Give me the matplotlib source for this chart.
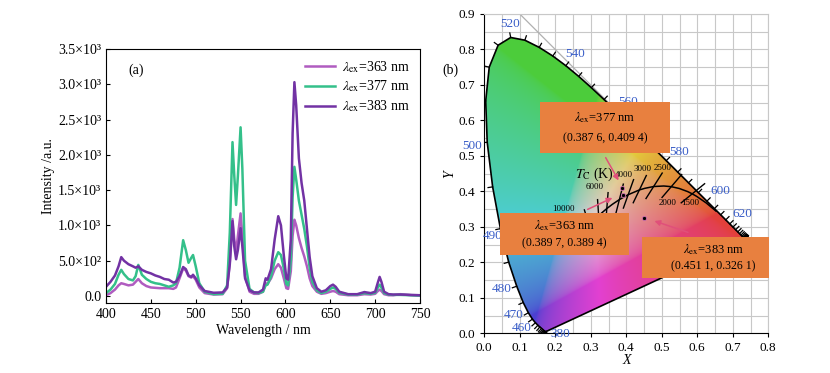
import numpy as np
import matplotlib
matplotlib.use("Agg")
import matplotlib.pyplot as plt
from matplotlib.patches import Polygon, Rectangle

plt.rcParams['font.family'] = ['Liberation Serif', 'DejaVu Serif']
plt.rcParams['mathtext.fontset'] = 'stix'

# ---- (a) emission spectra ----
wl = [400, 405, 410, 414, 417, 420, 425, 430, 433, 436, 440, 445, 450, 455, 460, 465, 470, 475, 478,
      482, 486, 489, 492, 495, 497, 500, 504, 510, 520, 530, 535, 538, 541, 543, 545, 547, 550, 552,
      555, 560, 565, 570, 575, 578, 580, 584, 588, 592, 595, 598, 601, 603, 606, 608, 610, 612, 615,
      618, 621, 624, 627, 630, 635, 640, 645, 650, 653, 656, 660, 670, 680, 688, 695, 700, 703, 705,
      707, 710, 715, 720, 728, 740, 750]
i363 = [10, 40, 90, 150, 180, 170, 150, 160, 200, 240, 180, 140, 120, 115, 110, 110, 110, 100, 120,
        250, 390, 360, 280, 260, 280, 230, 120, 40, 20, 25, 110, 480, 1090, 800, 620, 850, 1170, 850,
        280, 60, 30, 30, 60, 180, 170, 250, 380, 450, 400, 260, 110, 100, 350, 850, 1080, 1000, 820,
        680, 560, 420, 250, 140, 60, 30, 40, 60, 70, 60, 25, 10, 10, 25, 20, 30, 70, 90,
        70, 25, 10, 10, 25, 10, 5]
i377 = [40, 90, 170, 300, 370, 310, 240, 220, 280, 440, 300, 240, 200, 180, 170, 150, 130, 150, 180,
        400, 790, 650, 470, 540, 580, 420, 180, 60, 25, 30, 150, 900, 2180, 1700, 1290, 1700, 2390, 1800,
        500, 100, 50, 40, 60, 150, 160, 280, 500, 620, 580, 400, 170, 150, 500, 1400, 1830, 1650, 1350,
        1150, 950, 700, 400, 200, 80, 40, 60, 100, 120, 100, 45, 20, 20, 40, 30, 45, 120, 160,
        120, 40, 20, 15, 15, 10, 5]
i383 = [130, 200, 290, 420, 550, 500, 450, 420, 400, 420, 370, 340, 320, 290, 270, 240, 230, 190, 200,
        280, 410, 380, 290, 270, 300, 250, 150, 70, 45, 50, 120, 450, 1060, 700, 520, 650, 960, 700,
        250, 80, 50, 50, 90, 250, 230, 380, 800, 1130, 1000, 600, 250, 230, 800, 2300, 3030, 2700, 1950,
        1600, 1350, 950, 550, 280, 110, 60, 80, 140, 160, 130, 60, 25, 25, 55, 40, 60, 190, 270,
        200, 60, 25, 20, 20, 15, 10]
ytick_vals = [0, 500, 1000, 1500, 2000, 2500, 3000, 3500]
ytick_labels = ['0.0', '5.0×10²', '1.0×10³', '1.5×10³', '2.0×10³', '2.5×10³', '3.0×10³', '3.5×10³']

# ---- (b) CIE 1931 ----
locus_wl = list(range(380, 705, 5))
locus_x = [0.1741, 0.1740, 0.1738, 0.1736, 0.1733, 0.1730, 0.1726, 0.1721, 0.1714, 0.1703, 0.1689,
           0.1669, 0.1644, 0.1611, 0.1566, 0.1510, 0.1440, 0.1355, 0.1241, 0.1096, 0.0913, 0.0687,
           0.0454, 0.0235, 0.0082, 0.0039, 0.0139, 0.0389, 0.0743, 0.1142, 0.1547, 0.1929, 0.2296,
           0.2658, 0.3016, 0.3373, 0.3731, 0.4087, 0.4441, 0.4788, 0.5125, 0.5448, 0.5752, 0.6029,
           0.6270, 0.6482, 0.6658, 0.6801, 0.6915, 0.7006, 0.7079, 0.7140, 0.7190, 0.7230, 0.7260,
           0.7283, 0.7300, 0.7311, 0.7320, 0.7327, 0.7334, 0.7340, 0.7344, 0.7346, 0.7347]
locus_y = [0.0050, 0.0050, 0.0049, 0.0049, 0.0048, 0.0048, 0.0048, 0.0048, 0.0051, 0.0058, 0.0069,
           0.0086, 0.0109, 0.0138, 0.0177, 0.0227, 0.0297, 0.0399, 0.0578, 0.0868, 0.1327, 0.2007,
           0.2950, 0.4127, 0.5384, 0.6548, 0.7502, 0.8120, 0.8338, 0.8262, 0.8059, 0.7816, 0.7543,
           0.7243, 0.6923, 0.6589, 0.6245, 0.5896, 0.5547, 0.5202, 0.4866, 0.4544, 0.4242, 0.3965,
           0.3725, 0.3514, 0.3340, 0.3197, 0.3083, 0.2993, 0.2920, 0.2859, 0.2809, 0.2770, 0.2740,
           0.2717, 0.2700, 0.2689, 0.2680, 0.2673, 0.2666, 0.2660, 0.2656, 0.2654, 0.2653]
wl_labels = [380, 460, 470, 480, 490, 500, 520, 540, 560, 580, 600, 620]
wl_label_xy = [(0.213, -0.002), (0.105, 0.015), (0.084, 0.052), (0.049, 0.124), (0.024, 0.274),
               (-0.035, 0.527), (0.072, 0.872), (0.255, 0.788), (0.405, 0.652), (0.548, 0.51),
               (0.665, 0.40), (0.727, 0.337)]

planck_T = [1000, 1200, 1400, 1500, 1600, 1800, 2000, 2200, 2500, 2800, 3000, 3500, 4000, 4500,
            5000, 6000, 7000, 8000, 10000]
planck_x = [0.6528, 0.6251, 0.5985, 0.5857, 0.5732, 0.5492, 0.5267, 0.5056, 0.4770, 0.4520, 0.4369,
            0.4053, 0.3805, 0.3608, 0.3451, 0.3221, 0.3064, 0.2952, 0.2807]
planck_y = [0.3444, 0.3674, 0.3858, 0.3931, 0.3993, 0.4082, 0.4133, 0.4152, 0.4137, 0.4086, 0.4041,
            0.3907, 0.3768, 0.3636, 0.3516, 0.3318, 0.3166, 0.3048, 0.2883]
iso_T = [1500, 2000, 2500, 3000, 3500, 4000, 5000, 6000, 8000, 10000]

exc = [363, 377, 383]
cie_x = [0.3897, 0.3876, 0.4511]
cie_y = [0.3894, 0.4094, 0.3261]

fig = plt.figure(figsize=(8.3, 3.73), dpi=100)

# ---------- panel a ----------
ax = fig.add_axes([106 / 830, 70 / 373, 314 / 830, 254 / 373])
ax.plot(wl, i363, color='#b05cc0', lw=1.8, label=r'$\lambda_{\rm ex}$=363 nm')
ax.plot(wl, i377, color='#34c08a', lw=1.8, label=r'$\lambda_{\rm ex}$=377 nm')
ax.plot(wl, i383, color='#7232a4', lw=1.8, label=r'$\lambda_{\rm ex}$=383 nm')
ax.set_xlim(400, 750)
ax.set_ylim(-100, 3500)
ax.set_xticks(range(400, 751, 50))
ax.set_yticks(ytick_vals)
ax.set_yticklabels(ytick_labels)
ax.tick_params(direction='in', labelsize=10, length=3)
ax.set_xlabel('Wavelength / nm', fontsize=10, labelpad=2)
ax.set_ylabel('Intensity /a.u.', fontsize=10, labelpad=2)
ax.text(434, 3200, '(a)', fontsize=10, ha='center', va='center')
ax.legend(loc='upper right', frameon=False, fontsize=10, handlelength=2.2,
          borderaxespad=0.3, labelspacing=0.3, handletextpad=0.5)

# ---------- panel b ----------
bx = fig.add_axes([484.3 / 830, 39.7 / 373, 284 / 830, 319.3 / 373])
bx.set_xlim(0, 0.8)
bx.set_ylim(0, 0.9)
bx.set_xticks(np.arange(0, 0.81, 0.1))
bx.set_yticks(np.arange(0, 0.91, 0.1))
bx.set_xticks(np.arange(0, 0.81, 0.05), minor=True)
bx.set_yticks(np.arange(0, 0.91, 0.05), minor=True)
bx.xaxis.set_major_formatter(matplotlib.ticker.FormatStrFormatter('%.1f'))
bx.yaxis.set_major_formatter(matplotlib.ticker.FormatStrFormatter('%.1f'))
bx.grid(True, which='both', color='#c8c8c8', lw=0.8, zorder=0)
bx.set_axisbelow(True)
bx.tick_params(which='major', direction='out', length=3, labelsize=9.5)
bx.tick_params(which='minor', length=0)
for s in ['top', 'right']:
    bx.spines[s].set_color('#c8c8c8')
bx.set_xlabel('X', fontsize=10, style='italic', labelpad=0)
bx.set_ylabel('Y', fontsize=10, style='italic', labelpad=2)
bx.plot([0.1, 0.735], [0.9, 0.265], color='#b0b0b0', lw=0.9, zorder=1)

# coloured gamut
gx, gy = np.meshgrid(np.linspace(0, 0.8, 500), np.linspace(0.001, 0.9, 560))
X = gx / gy
Z = (1 - gx - gy) / gy
M = np.array([[3.2406, -1.5372, -0.4986], [-0.9689, 1.8758, 0.0415], [0.0557, -0.2040, 1.0570]])
rgb = np.stack([M[i, 0] * X + M[i, 1] * 1.0 + M[i, 2] * Z for i in range(3)], axis=-1)
rgb = np.clip(rgb, 0, None)
rgb = rgb / np.max(rgb, axis=-1, keepdims=True).clip(1e-6)
rgb = np.where(rgb <= 0.0031308, 12.92 * rgb, 1.055 * rgb ** (1 / 2.4) - 0.055)
rgb = np.clip(rgb, 0, 1)
# soften towards a warm white, as in the printed figure
rgb = 0.92 * (0.64 * rgb + 0.36 * np.array([0.9, 0.82, 0.7]))
rgb[..., 1] *= 0.93
rgb = np.clip(rgb, 0, 1)
poly = Polygon(np.column_stack([locus_x, locus_y]), closed=True, fc='none', ec='black', lw=1.2, zorder=3)
bx.add_patch(poly)
im = bx.imshow(rgb, extent=(0, 0.8, 0.001, 0.9), origin='lower', aspect='auto', zorder=2,
               interpolation='bilinear')
im.set_clip_path(poly)

# wavelength ticks along locus
lx, ly = np.array(locus_x), np.array(locus_y)
for k in range(len(lx)):
    a, b = max(k - 1, 0), min(k + 1, len(lx) - 1)
    tx, ty = lx[b] - lx[a], ly[b] - ly[a]
    n = np.hypot(tx, ty)
    if n < 1e-6:
        tx, ty, n = 1.0, 0.0, 1.0
    nx, ny = ty / n, -tx / n
    if nx * (lx[k] - 0.33) + ny * (ly[k] - 0.33) < 0:
        nx, ny = -nx, -ny
    bx.plot([lx[k], lx[k] + 0.013 * nx], [ly[k], ly[k] + 0.013 * ny], color='black', lw=0.9, zorder=3)
for lab, (px, py) in zip(wl_labels, wl_label_xy):
    bx.text(px, py, str(lab), color='#3a5ec8', fontsize=9.5, ha='center', va='center', zorder=6,
            clip_on=False)

# planckian locus and isotherms
bx.plot(planck_x, planck_y, color='black', lw=1.1, zorder=4)
for t in iso_T:
    k = planck_T.index(t)
    px, py = planck_x[k], planck_y[k]
    ux, uy = px - 0.3320, py - 0.1858
    n = np.hypot(ux, uy)
    ux, uy = ux / n, uy / n
    bx.plot([px - 0.04 * ux, px + 0.045 * ux], [py - 0.04 * uy, py + 0.045 * uy], color='black',
            lw=1.0, zorder=4)
for txt, px, py in [('10000', 0.222, 0.350), ('6000', 0.312, 0.411), ('4000', 0.393, 0.446),
                    ('3000', 0.446, 0.462), ('2500', 0.5025, 0.466), ('2000', 0.516, 0.368),
                    ('1500', 0.5795, 0.368)]:
    bx.text(px, py, txt, fontsize=6.5, ha='center', va='center', zorder=5)
bx.text(0.31, 0.449, r'$T_{\rm C}$ (K)', fontsize=10, ha='center', va='center', zorder=5)

# sample points
bx.scatter(cie_x, cie_y, s=9, c='black', edgecolors='#d070b0', linewidths=0.6, zorder=7)

# annotation boxes
boxes = [(0.044, 0.221, 0.364, 0.117), (0.157, 0.508, 0.366, 0.144), (0.443, 0.155, 0.360, 0.116)]
arrows = [((0.284, 0.346), (0.368, 0.385)), ((0.338, 0.502), (0.382, 0.424)),
          ((0.581, 0.282), (0.472, 0.319))]


def fmt(v):
    s = '%.4f' % v
    return s[:-1] + ' ' + s[-1]


for e, x, y, (bx0, by0, bw, bh), (p0, p1) in zip(exc, cie_x, cie_y, boxes, arrows):
    bx.add_patch(Rectangle((bx0, by0), bw, bh, fc='#e8803f', ec='none', zorder=8, clip_on=False))
    cx = bx0 + bw / 2 + (0.022 if e == 383 else 0.0)
    bx.text(cx, by0 + bh * 0.7, r'$\lambda_{\rm ex}$=%d nm' % e,
            fontsize=9, ha='center', va='center', zorder=9, clip_on=False)
    bx.text(cx, by0 + bh * 0.28, '(%s, %s)' % (fmt(x), fmt(y)),
            fontsize=8.5, ha='center', va='center', zorder=9, clip_on=False)
    bx.annotate('', xy=p1, xytext=p0, zorder=9,
                arrowprops=dict(arrowstyle='-|>', color='#e0507a', lw=1.1, mutation_scale=8))

fig.text(450 / 830, 1 - 70 / 373, '(b)', fontsize=10, ha='center', va='center')

fig.savefig('out.png', dpi=100)
